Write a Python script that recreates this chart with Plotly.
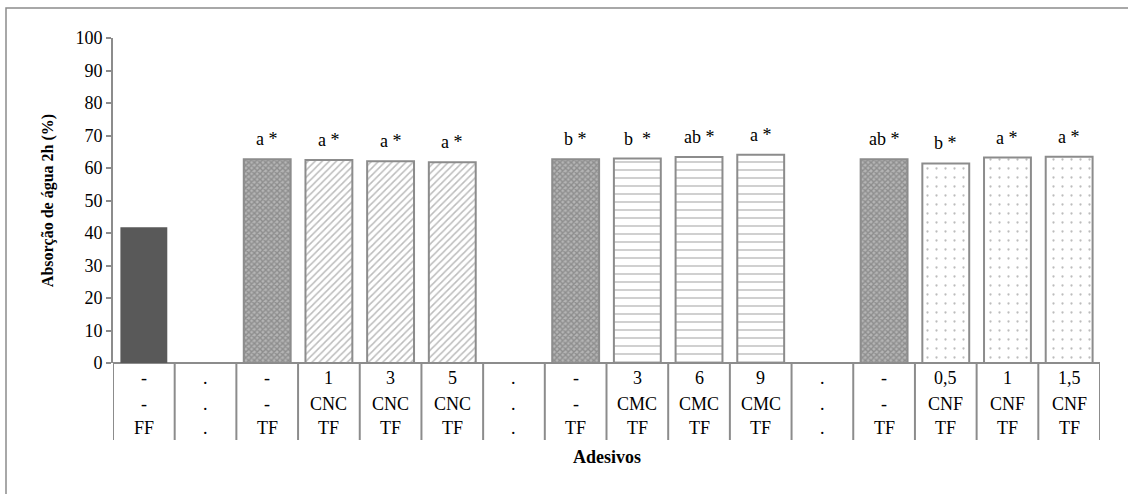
import plotly.graph_objects as go

# Data
row_conc = ["-", ".", "-", "1", "3", "5", ".", "-", "3", "6", "9", ".", "-", "0,5", "1", "1,5"]
row_nano = ["-", ".", "-", "CNC", "CNC", "CNC", ".", "-", "CMC", "CMC", "CMC", ".", "-", "CNF", "CNF", "CNF"]
row_base = ["FF", ".", "TF", "TF", "TF", "TF", ".", "TF", "TF", "TF", "TF", ".", "TF", "TF", "TF", "TF"]
values = [41.8, None, 62.7, 62.5, 62.1, 61.8, None, 62.7, 62.9, 63.4, 64.1, None, 62.7, 61.4, 63.2, 63.5]
letters = ["", "", "a *", "a *", "a *", "a *", "", "b *", "b  *", "ab *", "a *", "", "ab *", "b *", "a *", "a *"]
groups = ["FF", "", "TF", "CNC", "CNC", "CNC", "", "TF", "CMC", "CMC", "CMC", "", "TF", "CNF", "CNF", "CNF"]

styles = {
    "FF": dict(color="#595959", pattern=dict(shape="")),
    "TF": dict(color="white", pattern=dict(shape="x", fgcolor="#666666", bgcolor="#b5b5b5", size=4, solidity=0.6)),
    "CNC": dict(color="white", pattern=dict(shape="/", fgcolor="#7a7a7a", bgcolor="white", size=5, solidity=0.3)),
    "CMC": dict(color="white", pattern=dict(shape="-", fgcolor="#8a8a8a", bgcolor="white", size=8, solidity=0.2)),
    "CNF": dict(color="white", pattern=dict(shape=".", fgcolor="#7a7a7a", bgcolor="white", size=9, solidity=0.05)),
}

FONT = "Liberation Serif"
FS = 18
fig = go.Figure()
for g in ["FF", "TF", "CNC", "CMC", "CNF"]:
    xs = [i for i in range(16) if groups[i] == g]
    ys = [values[i] for i in xs]
    st = styles[g]
    fig.add_trace(go.Bar(
        x=xs, y=ys, width=0.76,
        marker=dict(color=st["color"], pattern=st["pattern"],
                    line=dict(color="#595959" if g == "FF" else "#8c8c8c", width=0 if g == "FF" else 2)),
        showlegend=False, hoverinfo="skip",
    ))

annotations = []
for i in range(16):
    if letters[i]:
        annotations.append(dict(x=i, y=values[i], xref="x", yref="y", text=letters[i],
                                showarrow=False, yanchor="bottom", yshift=8,
                                font=dict(family=FONT, size=FS, color="black")))

plot_h = 325.0
rows = [(row_conc, 378), (row_nano, 404), (row_base, 428)]
for arr, ypx in rows:
    for i in range(16):
        annotations.append(dict(x=i, y=-(ypx - 363) / plot_h, xref="x", yref="paper",
                                text=arr[i], showarrow=False, yanchor="middle",
                                font=dict(family=FONT, size=FS, color="black")))

annotations.append(dict(x=0.5, y=-(457 - 363) / plot_h, xref="paper", yref="paper",
                        text="<b>Adesivos</b>", showarrow=False, yanchor="middle",
                        font=dict(family=FONT, size=FS, color="black")))

shapes = []
for k in range(17):
    shapes.append(dict(type="line", xref="x", yref="paper", x0=k - 0.5, x1=k - 0.5,
                       y0=0, y1=-(440 - 363) / plot_h, line=dict(color="#8c8c8c", width=2)))
# outer border
shapes.append(dict(type="rect", xref="paper", yref="paper",
                   x0=(6 - 113) / 987, x1=(1250 - 113) / 987,
                   y0=-(600 - 363) / plot_h, y1=1 + (38 - 8) / plot_h,
                   line=dict(color="#8c8c8c", width=1.5), fillcolor="rgba(0,0,0,0)", layer="below"))

fig.update_layout(
    width=1128, height=494,
    margin=dict(l=113, r=28, t=38, b=131),
    paper_bgcolor="white", plot_bgcolor="white",
    bargap=0.24,
    font=dict(family=FONT, size=FS, color="black"),
    xaxis=dict(range=[-0.5, 15.5], showticklabels=False, ticks="", showgrid=False,
               zeroline=False, showline=False),
    yaxis=dict(range=[0, 100], dtick=10, ticks="outside", ticklen=5, tickcolor="#8c8c8c",
               tickwidth=1.5, showline=True, linecolor="#8c8c8c", linewidth=2,
               showgrid=False, zeroline=True, zerolinecolor="#8c8c8c", zerolinewidth=2,
               tickfont=dict(family=FONT, size=FS, color="black"),
               title=dict(text="<b>Absorção de água 2h (%)</b>", font=dict(family=FONT, size=16),
                          standoff=18)),
    annotations=annotations, shapes=shapes,
)

fig.write_html("out.html")
